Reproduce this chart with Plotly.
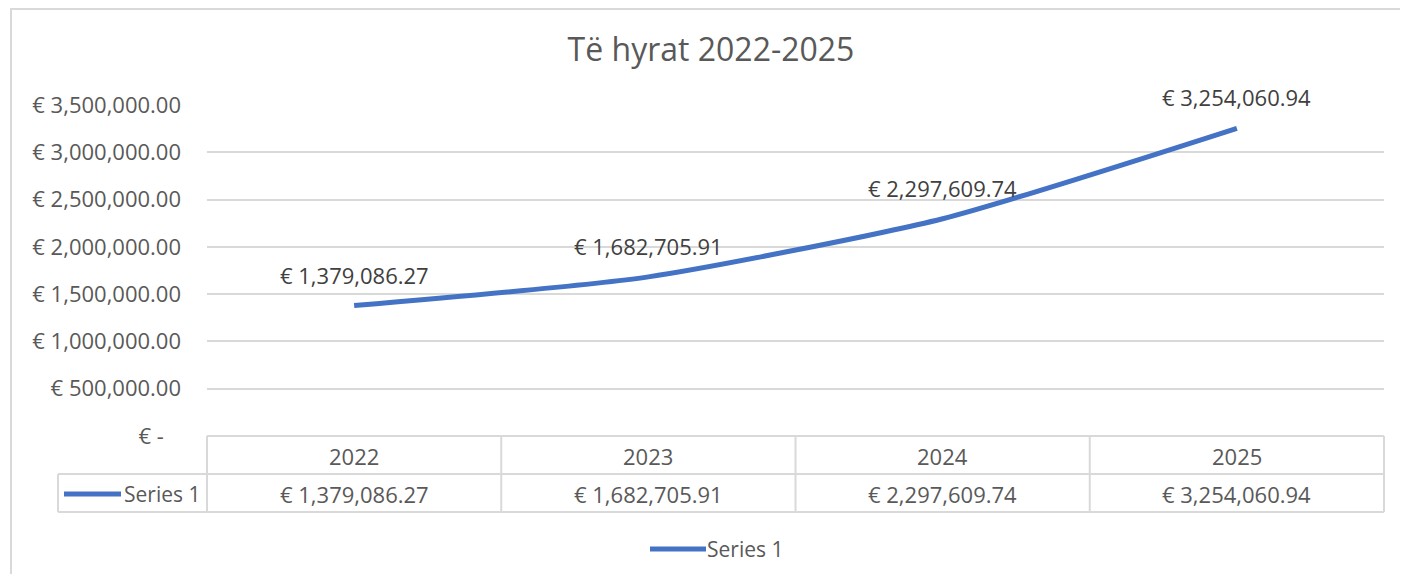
import plotly.graph_objects as go

# chart data
years = ["2022", "2023", "2024", "2025"]
revenue = [1379086.27, 1682705.91, 2297609.74, 3254060.94]
series_name = "Series 1"
y_ticks = [0, 500000, 1000000, 1500000, 2000000, 2500000, 3000000, 3500000]

# the page body adds an 8px margin, so the figure is sized to fit inside it
OFF = 8
W, H = 1408 - 2 * OFF, 582 - 2 * OFF
FONT = "Open Sans"
GREY_TXT = "#595959"
GRID = "#d9d9d9"
BLUE = "#4472C4"


def eur(v):
    if v == 0:
        return "€ -\u00a0\u00a0\u00a0"
    return f"€ {v:,.2f}"


def px(x):
    return (x - OFF) / W


def py(y):
    return 1 - (y - OFF) / H


fig = go.Figure()
fig.add_trace(
    go.Scatter(
        x=years,
        y=revenue,
        name=series_name,
        mode="lines",
        line=dict(color=BLUE, width=5, shape="spline", smoothing=0.6),
        showlegend=False,
        hoverinfo="skip",
    )
)

txt = dict(size=22, color=GREY_TXT, family=FONT)

# data labels above points (category index on the x axis)
for i, v in enumerate(revenue):
    fig.add_annotation(
        x=i, y=v, xref="x", yref="y", text=eur(v), showarrow=False,
        yshift=31, yanchor="middle",
        font=dict(size=22, color="#404040", family=FONT),
    )

shapes = []
line_style = dict(color=GRID, width=2)
# outer chart border: only the top and left edges are in view
shapes.append(dict(type="line", xref="paper", yref="paper",
                   x0=px(10), x1=1, y0=py(9), y1=py(9), line=line_style))
shapes.append(dict(type="line", xref="paper", yref="paper",
                   x0=px(11), x1=px(11), y0=py(9), y1=0, line=line_style))

# data table grid
top, mid, bot = 436, 474, 512
left_lbl, left, right = 58, 207, 1384
shapes.append(dict(type="line", xref="paper", yref="paper",
                   x0=px(left), x1=px(right), y0=py(top), y1=py(top), line=line_style))
for yy in (mid, bot):
    shapes.append(dict(type="line", xref="paper", yref="paper",
                       x0=px(left_lbl), x1=px(right), y0=py(yy), y1=py(yy), line=line_style))
shapes.append(dict(type="line", xref="paper", yref="paper",
                   x0=px(left_lbl), x1=px(left_lbl), y0=py(mid), y1=py(bot), line=line_style))
for i in range(len(years) + 1):
    xx = left + (right - left) * i / len(years)
    shapes.append(dict(type="line", xref="paper", yref="paper",
                       x0=px(xx), x1=px(xx), y0=py(top), y1=py(bot), line=line_style))

# legend keys (table + bottom legend)
for x0, x1, yy in ((64, 121, 494), (650, 706, 549)):
    shapes.append(dict(type="line", xref="paper", yref="paper",
                       x0=px(x0), x1=px(x1), y0=py(yy), y1=py(yy),
                       line=dict(color=BLUE, width=5)))

for i, (yr, v) in enumerate(zip(years, revenue)):
    fig.add_annotation(x=i, y=py(456), xref="x", yref="paper", text=yr,
                       showarrow=False, yanchor="middle", font=txt)
    fig.add_annotation(x=i, y=py(494), xref="x", yref="paper", text=eur(v),
                       showarrow=False, yanchor="middle", font=txt)

for xx, yy in ((122, 494), (705, 549)):
    fig.add_annotation(x=px(xx), y=py(yy), xref="paper", yref="paper",
                       text=series_name, xanchor="left", yanchor="middle",
                       showarrow=False, font=dict(size=21, color=GREY_TXT, family=FONT))

fig.update_layout(
    width=W, height=H,
    margin=dict(l=0, r=0, t=0, b=0, pad=0),
    paper_bgcolor="white", plot_bgcolor="white",
    shapes=shapes,
    title=dict(text="Të hyrat 2022-2025", x=px(711), y=py(50),
               xanchor="center", yanchor="middle",
               font=dict(size=32, color=GREY_TXT, family=FONT)),
    xaxis=dict(type="category", domain=[px(left), px(right)], range=[-0.5, 3.5],
               showticklabels=False, showgrid=False, zeroline=False,
               automargin=False, fixedrange=True),
    yaxis=dict(domain=[py(top), py(105)], range=[0, 3500000],
               tickvals=y_ticks, ticktext=[eur(t) for t in y_ticks],
               showgrid=True, gridcolor=GRID, gridwidth=2, zeroline=False,
               tickfont=txt, ticklabelstandoff=25,
               automargin=False, fixedrange=True),
    showlegend=False,
)

fig.write_html("out.html")
